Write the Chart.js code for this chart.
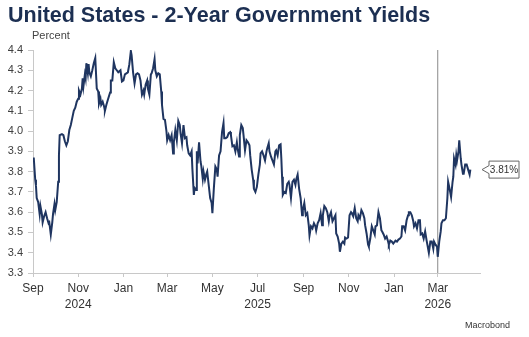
<!DOCTYPE html>
<html>
<head>
<meta charset="utf-8">
<script src="https://cdn.jsdelivr.net/npm/chart.js@4.4.1/dist/chart.umd.min.js"></script>
<style>
  html, body { margin: 0; padding: 0; background: #fff; }
</style>
</head>
<body>
<canvas id="myChart" width="529" height="337"></canvas>
<script>
// days after 2024-09-01 and the 2-year yield (percent)
var startDate = '2024-09-01';
var days = [
  1, 3, 4, 5, 7, 9, 10, 12, 13, 15, 17, 19, 21, 22, 24, 26, 27, 29, 30, 32,
  34, 35, 36, 39, 41, 43, 45, 47, 49, 51, 53, 55, 57, 59, 61, 62, 64, 66, 67, 68,
  70, 71, 72, 74, 75, 76, 78, 80, 82, 84, 86, 88, 89, 91, 92, 94, 96, 97, 99, 101,
  104, 105, 107, 109, 111, 113, 115, 118, 120, 122, 124, 126, 128, 130, 132, 133, 135, 137, 139, 141,
  143, 145, 147, 149, 150, 152, 154, 155, 157, 159, 160, 162, 164, 165, 167, 169, 171, 173, 174, 176,
  178, 180, 181, 183, 185, 187, 189, 190, 192, 194, 196, 198, 199, 201, 203, 205, 207, 208, 210, 212,
  214, 215, 217, 218, 220, 221, 222, 224, 226, 227, 229, 230, 232, 234, 235, 237, 239, 241, 242, 244,
  246, 248, 249, 251, 253, 255, 257, 258, 260, 262, 264, 266, 267, 269, 271, 273, 275, 276, 278, 279,
  281, 283, 284, 286, 288, 290, 292, 293, 295, 297, 298, 300, 302, 304, 306, 307, 309, 311, 313, 315,
  316, 318, 319, 321, 323, 325, 327, 328, 330, 332, 334, 335, 336, 337, 339, 341, 343, 345, 346, 348,
  350, 352, 354, 355, 357, 359, 361, 363, 364, 366, 368, 370, 372, 373, 375, 377, 379, 381, 382, 384,
  386, 388, 390, 391, 393, 395, 397, 399, 400, 402, 404, 406, 408, 409, 411, 413, 414, 416, 418, 420,
  421, 423, 425, 427, 429, 430, 432, 434, 436, 438, 439, 441, 443, 445, 447, 448, 450, 452, 453, 455,
  457, 459, 461, 462, 464, 466, 468, 470, 471, 473, 475, 477, 479, 480, 482, 484, 486, 488, 489, 491,
  493, 495, 497, 498, 500, 502, 504, 506, 507, 509, 511, 513, 514, 516, 518, 520, 522, 523, 525, 527,
  529, 531, 532, 534, 536, 538, 540, 541, 543, 545, 546, 548, 550, 551, 553, 555, 557, 559, 560, 562,
  564, 566, 567, 568, 570, 571, 572, 574, 575, 577, 578, 580, 581, 583, 585, 587, 589, 590
];
var yields = [
  3.87, 3.76, 3.73, 3.67, 3.65, 3.59, 3.63, 3.59, 3.55, 3.58, 3.60, 3.57, 3.545, 3.55, 3.49, 3.55, 3.59, 3.64, 3.61, 3.65,
  3.75, 3.88, 3.98, 3.985, 3.98, 3.95, 3.93, 3.95, 4.005, 4.03, 4.065, 4.10, 4.115, 4.145, 4.16, 4.20, 4.18, 4.21, 4.26, 4.22,
  4.28, 4.26, 4.335, 4.285, 4.33, 4.29, 4.27, 4.30, 4.335, 4.36, 4.21, 4.195, 4.135, 4.16, 4.13, 4.145, 4.12, 4.10, 4.13, 4.155,
  4.19, 4.25, 4.25, 4.34, 4.31, 4.30, 4.29, 4.30, 4.245, 4.25, 4.28, 4.285, 4.29, 4.33, 4.395, 4.375, 4.29, 4.235, 4.28, 4.285,
  4.28, 4.25, 4.18, 4.20, 4.18, 4.23, 4.25, 4.21, 4.18, 4.28, 4.285, 4.31, 4.355, 4.30, 4.27, 4.285, 4.28, 4.195, 4.13, 4.06,
  4.055, 4.00, 3.955, 3.98, 3.955, 3.98, 3.89, 3.945, 4.005, 3.955, 4.05, 4.03, 3.99, 3.94, 4.03, 3.965, 3.97, 3.93, 3.89, 3.88,
  3.90, 3.815, 3.685, 3.72, 3.71, 3.90, 3.84, 3.945, 3.85, 3.83, 3.765, 3.80, 3.76, 3.79, 3.80, 3.735, 3.67, 3.645, 3.595, 3.72,
  3.825, 3.81, 3.775, 3.88, 3.90, 3.995, 4.04, 3.965, 3.965, 3.97, 3.99, 3.995, 3.98, 3.925, 3.93, 3.90, 3.945, 3.915, 3.875, 3.98,
  4.03, 4.015, 3.98, 3.905, 3.955, 3.945, 3.93, 3.88, 3.81, 3.76, 3.715, 3.70, 3.725, 3.785, 3.835, 3.89, 3.90, 3.88, 3.855, 3.90,
  3.915, 3.94, 3.90, 3.875, 3.855, 3.835, 3.90, 3.905, 3.88, 3.93, 3.935, 3.865, 3.775, 3.685, 3.70, 3.695, 3.74, 3.75, 3.735, 3.67,
  3.75, 3.76, 3.735, 3.76, 3.785, 3.715, 3.67, 3.585, 3.61, 3.645, 3.585, 3.595, 3.535, 3.485, 3.53, 3.52, 3.545, 3.53, 3.51, 3.545,
  3.56, 3.595, 3.535, 3.585, 3.63, 3.62, 3.60, 3.555, 3.58, 3.60, 3.555, 3.57, 3.585, 3.495, 3.48, 3.445, 3.405, 3.445, 3.455, 3.445,
  3.475, 3.47, 3.475, 3.585, 3.60, 3.595, 3.58, 3.62, 3.57, 3.555, 3.585, 3.57, 3.61, 3.595, 3.57, 3.536, 3.495, 3.44, 3.43, 3.47,
  3.53, 3.51, 3.49, 3.53, 3.535, 3.60, 3.57, 3.51, 3.505, 3.49, 3.47, 3.48, 3.455, 3.44, 3.46, 3.455, 3.445, 3.455, 3.46, 3.455,
  3.465, 3.47, 3.48, 3.53, 3.53, 3.51, 3.56, 3.585, 3.60, 3.60, 3.585, 3.555, 3.53, 3.545, 3.52, 3.56, 3.56, 3.49, 3.495, 3.47,
  3.505, 3.46, 3.44, 3.40, 3.455, 3.455, 3.42, 3.455, 3.44, 3.43, 3.38, 3.455, 3.505, 3.545, 3.56, 3.56, 3.57, 3.67, 3.75, 3.715,
  3.675, 3.75, 3.775, 3.865, 3.835, 3.88, 3.855, 3.90, 3.955, 3.865, 3.835, 3.79, 3.79, 3.835, 3.835, 3.81, 3.785, 3.81
];

// x axis ticks (month starts) and their labels
var tickMonths = ['2024-09', '2024-11', '2025-01', '2025-03', '2025-05', '2025-07', '2025-09', '2025-11', '2026-01', '2026-03'];
var tickLabels = ['Sep', ['Nov', '2024'], 'Jan', 'Mar', 'May', ['Jul', '2025'], 'Sep', 'Nov', 'Jan', ['Mar', '2026']];
var markerDate = '2026-03-01';
var axisEndDate = '2026-04-27';

function dayOf(str) {
  var p = str.split('-');
  var s = startDate.split('-');
  return (Date.UTC(+p[0], +p[1] - 1, p[2] ? +p[2] : 1) - Date.UTC(+s[0], +s[1] - 1, +s[2])) / 86400000;
}

var tickDays = tickMonths.map(dayOf);
var markerDay = dayOf(markerDate);
var points = days.map(function (d, i) { return { x: d, y: yields[i] }; });

var FONT = "'Liberation Sans', Arial, sans-serif";

var textPlugin = {
  id: 'texts',
  afterDraw: function (chart) {
    var c = chart.ctx;
    c.save();
    c.fillStyle = '#1c2f52';
    c.font = 'bold 21.5px ' + FONT;
    c.textBaseline = 'alphabetic';
    c.textAlign = 'left';
    c.fillText('United States - 2-Year Government Yields', 8, 22);

    c.fillStyle = '#444';
    c.font = '11px ' + FONT;
    c.textBaseline = 'middle';
    c.fillText('Percent', 32, 36);

    c.font = '9px ' + FONT;
    c.textAlign = 'right';
    c.fillStyle = '#333';
    c.fillText('Macrobond', 510, 326);
    c.restore();
  }
};

var calloutPlugin = {
  id: 'callout',
  afterDatasetsDraw: function (chart) {
    var meta = chart.getDatasetMeta(0);
    var last = meta.data[meta.data.length - 1];
    var y = last.y;
    var tip = chart.chartArea.right + 2;
    var left = tip + 7, right = left + 30, h = 8.5;
    var c = chart.ctx;
    c.save();
    c.beginPath();
    c.moveTo(tip, y);
    c.lineTo(left, y - 4);
    c.lineTo(left, y - h);
    c.lineTo(right, y - h);
    c.lineTo(right, y + h);
    c.lineTo(left, y + h);
    c.lineTo(left, y + 4);
    c.closePath();
    c.fillStyle = '#fff';
    c.fill();
    c.strokeStyle = '#666';
    c.lineWidth = 1;
    c.stroke();
    c.fillStyle = '#333';
    c.font = '10px ' + FONT;
    c.textAlign = 'center';
    c.textBaseline = 'middle';
    c.fillText(yields[yields.length - 1].toFixed(2) + '%', (left + right) / 2, y + 0.5);
    c.restore();
  }
};

var ctx = document.getElementById('myChart').getContext('2d');
var chart = new Chart(ctx, {
  type: 'line',
  data: {
    datasets: [
      {
        label: '2-Year',
        data: points,
        borderColor: '#1f3560',
        borderWidth: 2,
        pointRadius: 0,
        tension: 0
      },
      {
        label: 'marker',
        data: [{ x: markerDay, y: 3.3 }, { x: markerDay, y: 4.4 }],
        borderColor: '#8a8a8a',
        borderWidth: 1,
        pointRadius: 0
      }
    ]
  },
  options: {
    responsive: false,
    animation: false,
    devicePixelRatio: 1,
    layout: { padding: { top: 50, right: 49, left: 0, bottom: 0 } },
    plugins: {
      legend: { display: false },
      tooltip: { enabled: false }
    },
    scales: {
      x: {
        type: 'linear',
        min: 0,
        max: dayOf(axisEndDate),
        afterBuildTicks: function (axis) {
          axis.ticks = tickDays.map(function (v) { return { value: v }; });
        },
        afterFit: function (axis) { axis.height = 64; },
        grid: { drawOnChartArea: false, tickLength: 4, color: '#c8c8c8' },
        border: { color: '#c8c8c8' },
        ticks: {
          autoSkip: false,
          maxRotation: 0,
          padding: 4,
          color: '#333',
          font: { family: FONT, size: 12, lineHeight: 1.3 },
          callback: function (value, index) { return tickLabels[index]; }
        }
      },
      y: {
        min: 3.3,
        max: 4.4,
        afterFit: function (axis) { axis.width = 33; },
        grid: { drawOnChartArea: false, tickLength: 5, color: '#c8c8c8' },
        border: { color: '#c8c8c8' },
        ticks: {
          stepSize: 0.1,
          padding: 5,
          color: '#404040',
          font: { family: FONT, size: 11 },
          callback: function (v) { return v.toFixed(1); }
        }
      }
    }
  },
  plugins: [textPlugin, calloutPlugin]
});
</script>
</body>
</html>
